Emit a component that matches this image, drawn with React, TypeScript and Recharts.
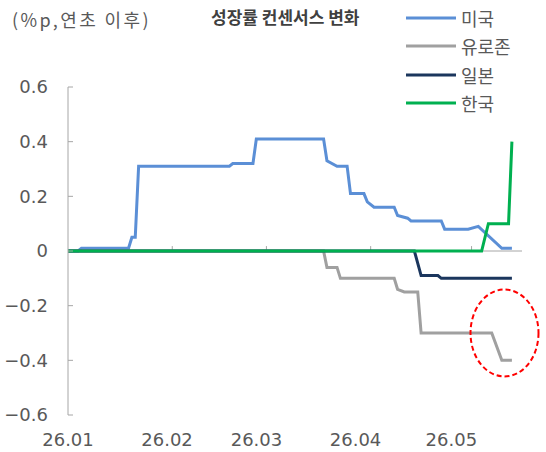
import React from 'react';
import { LineChart, Line, XAxis, YAxis, ReferenceLine, ReferenceDot, Legend } from 'recharts';

// ---- data (day index from 26.01.01) ----
const usDays = [0, 3, 4, 18, 19, 20, 21, 48, 49, 55, 56, 76, 77, 80, 83, 84, 88, 89, 91, 97, 98, 101, 102, 111, 112, 119, 122, 129, 132];
const usValues = [0, 0, 0.01, 0.01, 0.05, 0.05, 0.31, 0.31, 0.32, 0.32, 0.41, 0.41, 0.33, 0.31, 0.31, 0.21, 0.21, 0.18, 0.16, 0.16, 0.13, 0.12, 0.11, 0.11, 0.08, 0.08, 0.09, 0.01, 0.01];

const euDays = [0, 76, 77, 80, 81, 97, 98, 100, 104, 105, 126, 129, 132];
const euValues = [0, 0, -0.06, -0.06, -0.1, -0.1, -0.14, -0.15, -0.15, -0.3, -0.3, -0.4, -0.4];

const jpDays = [0, 103, 105, 110, 111, 132];
const jpValues = [0, 0, -0.09, -0.09, -0.1, -0.1];

const krDays = [0, 123, 125, 131, 132];
const krValues = [0, 0, 0.1, 0.1, 0.4];

const seriesNames = ['미국', '유로존', '일본', '한국'];
const monthTicks = [0, 31, 59, 90, 120];
const monthLabels = ['26.01', '26.02', '26.03', '26.04', '26.05'];
const yTicks = [-0.6, -0.4, -0.2, 0, 0.2, 0.4, 0.6];
const xDomain = [0, 135];

const highlightDay = 129.8;
const highlightValue = -0.3;

const titleText = '성장률 컨센서스 변화';
const unitText = '(%p,연초 이후)';

// ---- styling ----
const COLORS = ['#5B8FD6', '#A0A0A0', '#1B365D', '#00B050'];
const TEXT = '#595959';
const AXIS = '#A6A6A6';
const NUM_FONT = "'DejaVu Sans', 'Noto Sans CJK KR', sans-serif";
const KR_FONT = "'Noto Sans CJK KR', 'Noto Sans', sans-serif";
const PLOT_LEFT = 68;

const zip = (days: number[], vals: number[]) => days.map((d, i) => ({ day: d, v: vals[i] }));
const seriesData = [zip(usDays, usValues), zip(euDays, euValues), zip(jpDays, jpValues), zip(krDays, krValues)];
const zeroAxisData = xDomain.map((d) => ({ day: d, v: 0 }));

const fmtY = (v: number) => {
  if (Math.abs(v) < 1e-9) return '0';
  const s = v.toFixed(1);
  return s.replace('-', '\u2212');
};

const XTick = (props: any) => {
  const { x, y, payload } = props;
  const idx = monthTicks.indexOf(payload.value);
  const lx = x - (x - PLOT_LEFT) * 0.05;
  return (
    <text x={lx} y={y} dy={31} textAnchor="middle" fill={TEXT} fontSize={18} fontFamily={NUM_FONT}>
      {idx >= 0 ? monthLabels[idx] : ''}
    </text>
  );
};

const EllipseShape = (props: any) => {
  const { cx, cy } = props;
  return (
    <ellipse cx={cx} cy={cy} rx={34} ry={43.5} fill="none" stroke="#FF0000" strokeWidth={2} strokeDasharray="5 3" />
  );
};

const LegendContent = () => (
  <div style={{ fontFamily: KR_FONT }}>
    {seriesNames.map((n, i) => (
      <div key={n} style={{ display: 'flex', alignItems: 'center', height: 28.3 }}>
        <svg width={52} height={6} style={{ display: 'block' }}>
          <line x1={0} y1={3} x2={50} y2={3} stroke={COLORS[i]} strokeWidth={3} />
        </svg>
        <span style={{ fontSize: 18, color: TEXT, marginLeft: 3, lineHeight: '28px' }}>{n}</span>
      </div>
    ))}
  </div>
);

export default function App() {
  return (
    <div style={{ position: 'absolute', left: 0, top: 0, width: 546, height: 452, background: '#fff' }}>
      <div
        style={{
          position: 'absolute', left: 12, top: 6, fontSize: 18, color: TEXT,
          fontFamily: KR_FONT, whiteSpace: 'nowrap', letterSpacing: 2.4,
        }}
      >
        {unitText}
      </div>
      <div
        style={{
          position: 'absolute', left: 211, top: 4, fontSize: 17, fontWeight: 'bold', color: '#404040',
          fontFamily: KR_FONT, whiteSpace: 'nowrap',
        }}
      >
        {titleText}
      </div>
      <LineChart width={546} height={452} margin={{ top: 87, right: 24, bottom: 0, left: 0 }}>
        <XAxis
          type="number"
          dataKey="day"
          domain={xDomain}
          ticks={monthTicks}
          interval={0}
          allowDuplicatedCategory={false}
          axisLine={false}
          tickLine={false}
          tickSize={0}
          tickMargin={0}
          height={37}
          tick={<XTick />}
        />
        <YAxis
          type="number"
          domain={[-0.6, 0.6]}
          ticks={yTicks}
          interval={0}
          width={68}
          axisLine={{ stroke: AXIS, strokeWidth: 1 }}
          tickLine={{ stroke: AXIS, strokeWidth: 1 }}
          tickSize={-5}
          tickMargin={25}
          tickFormatter={fmtY}
          tick={{ fill: TEXT, fontSize: 18, fontFamily: NUM_FONT }}
        />
        {/* horizontal category axis crossing at zero, drawn beneath the series */}
        <Line
          data={zeroAxisData}
          dataKey="v"
          type="linear"
          stroke={AXIS}
          strokeWidth={1}
          dot={false}
          activeDot={false}
          legendType="none"
          isAnimationActive={false}
        />
        {monthTicks.slice(1).map((t) => (
          <ReferenceLine
            key={t}
            segment={[{ x: t, y: 0 }, { x: t, y: 0.018 }]}
            stroke={AXIS}
            strokeWidth={1}
          />
        ))}
        {seriesData.map((d, i) => (
          <Line
            key={seriesNames[i]}
            data={d}
            dataKey="v"
            name={seriesNames[i]}
            type="linear"
            stroke={COLORS[i]}
            strokeWidth={3}
            dot={false}
            activeDot={false}
            isAnimationActive={false}
          />
        ))}
        <ReferenceDot x={highlightDay} y={highlightValue} shape={<EllipseShape />} />
        <Legend
          layout="vertical"
          align="center"
          verticalAlign="middle"
          content={<LegendContent />}
          wrapperStyle={{ position: 'absolute', left: 406, top: 4, width: 140 }}
        />
      </LineChart>
    </div>
  );
}
